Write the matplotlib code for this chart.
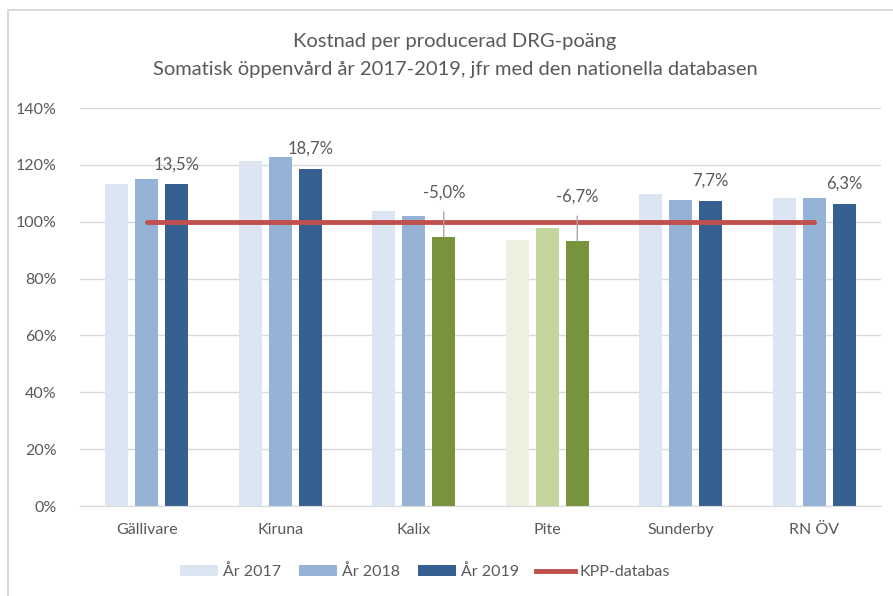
import matplotlib
matplotlib.use("Agg")
import matplotlib.pyplot as plt
from matplotlib.patches import Patch, Rectangle
from matplotlib.lines import Line2D
import numpy as np

plt.rcParams['font.family'] = ['Lato', 'DejaVu Sans']

categories = ["Gällivare", "Kiruna", "Kalix", "Pite", "Sunderby", "RN ÖV"]
y2017 = [113.1, 121.2, 103.9, 93.6, 109.7, 108.5]
y2018 = [115.1, 122.7, 102.0, 97.8, 107.7, 108.5]
y2019 = [113.1, 118.5, 94.7, 93.2, 107.4, 106.2]
kpp = [100, 100, 100, 100, 100, 100]
change_labels = ["13,5%", "18,7%", "-5,0%", "-6,7%", "7,7%", "6,3%"]
series_names = ["År 2017", "År 2018", "År 2019", "KPP-databas"]
title_lines = ["Kostnad per producerad DRG-poäng",
               "Somatisk öppenvård år 2017-2019, jfr med den nationella databasen"]

blue = ["#DCE6F2", "#95B3D7", "#376092"]
green = ["#EBF1DE", "#C3D69B", "#77933C"]
red = "#C0504D"
txt = "#595959"

fig = plt.figure(figsize=(8.93, 5.96), dpi=100)
W, H = 893, 596
ax = fig.add_axes([80 / W, 1 - 506 / H, (881 - 80) / W, (506 - 108) / H])

x = np.arange(len(categories))
off = 0.225
bw = 0.172
series = [y2017, y2018, y2019]
for j, vals in enumerate(series):
    for i, v in enumerate(vals):
        # Pite all green, Kalix 2019 green (below national reference)
        if categories[i] == "Pite":
            c = green[j]
        elif categories[i] == "Kalix" and j == 2:
            c = green[2]
        else:
            c = blue[j]
        ax.bar(x[i] + (j - 1) * off, v, width=bw, color=c, zorder=2)

ax.plot(x, kpp, color=red, lw=3.5, solid_capstyle='round', zorder=3)

for i, lab in enumerate(change_labels):
    bx = x[i] + off
    top = y2019[i]
    if lab.startswith("-"):
        ax.annotate(lab, xy=(bx, top), xytext=(0, 44), textcoords='offset pixels',
                    ha='center', va='center', fontsize=12, color=txt,
                    arrowprops=dict(arrowstyle='-', color='#A6A6A6', lw=1,
                                    shrinkA=6, shrinkB=0), zorder=4)
    else:
        ax.annotate(lab, xy=(bx, top), xytext=(0, 20), textcoords='offset pixels',
                    ha='center', va='center', fontsize=12, color=txt, zorder=4)

ax.set_xlim(-0.5, len(categories) - 0.5)
ax.set_ylim(0, 140)
ax.set_yticks(np.arange(0, 141, 20))
ax.set_yticklabels([f"{v}%" for v in range(0, 141, 20)])
ax.set_xticks(x)
ax.set_xticklabels(categories)
ax.grid(axis='y', color='#D9D9D9', lw=1, zorder=0)
ax.set_axisbelow(True)
for s in ['top', 'right', 'left']:
    ax.spines[s].set_visible(False)
ax.spines['bottom'].set_color('#D9D9D9')
ax.tick_params(axis='both', length=0, colors=txt, labelsize=11.5)
ax.tick_params(axis='y', pad=17)
ax.tick_params(axis='x', pad=12)

fig.text(455 / W, 1 - 42 / H, title_lines[0], ha='center', va='center',
         fontsize=14.5, color=txt)
fig.text(455 / W, 1 - 70 / H, title_lines[1], ha='center', va='center',
         fontsize=14.5, color=txt)

handles = [Patch(facecolor=blue[0]), Patch(facecolor=blue[1]),
           Patch(facecolor=blue[2]), Line2D([0], [0], color=red, lw=3.5)]
fig.legend(handles, series_names, loc='center', bbox_to_anchor=(425 / W, 1 - 572 / H),
           ncol=4, frameon=False, fontsize=11.5, labelcolor=txt,
           handlelength=2.4, handleheight=0.7, handletextpad=0.3, columnspacing=1.1)

fig.add_artist(Rectangle((8 / W, -0.1), 1.2, 1 - 10 / H + 0.1, transform=fig.transFigure,
                         fill=False, edgecolor='#D9D9D9', lw=1.5))

fig.savefig("out.png", dpi=100)
